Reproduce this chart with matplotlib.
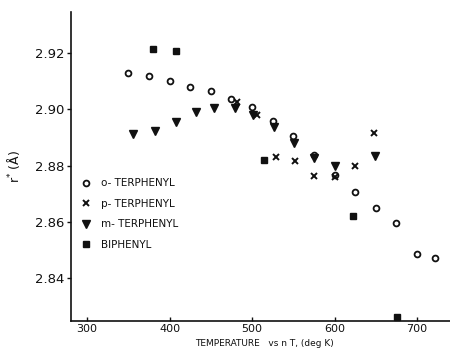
import matplotlib
matplotlib.use("Agg")
import matplotlib.pyplot as plt

# Temperature (K) and characteristic distance r* (Angstrom) per compound
o_terphenyl_T = [350, 375, 400, 425, 450, 475, 500, 525, 550, 575, 600, 625, 650, 675, 700, 722]
o_terphenyl_r = [2.913, 2.912, 2.910, 2.908, 2.9065, 2.9036, 2.9008, 2.896, 2.8905, 2.8838, 2.8766, 2.8706, 2.865, 2.8596, 2.8485, 2.847]

p_terphenyl_T = [482, 506, 529, 552, 575, 600, 625, 648]
p_terphenyl_r = [2.9026, 2.898, 2.883, 2.8816, 2.8763, 2.8760, 2.880, 2.8916]

m_terphenyl_T = [356, 382, 408, 432, 454, 479, 501, 527, 551, 575, 600, 649]
m_terphenyl_r = [2.8912, 2.8923, 2.8955, 2.899, 2.9004, 2.9004, 2.898, 2.8937, 2.888, 2.8827, 2.880, 2.8834]

biphenyl_T = [380, 408, 515, 622, 676]
biphenyl_r = [2.9214, 2.9208, 2.882, 2.862, 2.826]

x_ticks = [300, 400, 500, 600, 700]
y_ticks = [2.84, 2.86, 2.88, 2.90, 2.92]
y_tick_labels = ["2.84", "2.86", "2.88", "2.90", "2.92"]

plt.rcParams["font.family"] = ["DejaVu Sans"]

fig = plt.figure(figsize=(4.5, 3.49), dpi=100)
ax = fig.add_axes([71 / 450, 1 - 321 / 349, 1 - 71 / 450, (321 - 12) / 349])

ink = "#111111"
ax.plot(o_terphenyl_T, o_terphenyl_r, linestyle="none", marker="o", ms=4.2,
        mfc="white", mec=ink, mew=1.3, label="o- TERPHENYL")
ax.plot(p_terphenyl_T, p_terphenyl_r, linestyle="none", marker="x", ms=4.5,
        color=ink, mew=1.4, label="p- TERPHENYL")
ax.plot(m_terphenyl_T, m_terphenyl_r, linestyle="none", marker="v", ms=5.5,
        color=ink, mec=ink, label="m- TERPHENYL")
ax.plot(biphenyl_T, biphenyl_r, linestyle="none", marker="s", ms=4.0,
        color=ink, mec=ink, label="BIPHENYL")

ax.set_xlim(280.6, 740)
ax.set_ylim(2.8247, 2.9346)

ax.set_xticks(x_ticks)
ax.set_xticklabels([str(t) for t in x_ticks], fontsize=8, color=ink)
ax.set_yticks(y_ticks)
ax.set_yticklabels(y_tick_labels, fontsize=9.5, color=ink)
ax.tick_params(axis="x", direction="in", length=3, width=1, pad=2, colors=ink)
ax.tick_params(axis="y", direction="out", length=3, width=1, pad=2, colors=ink)

for side in ("top", "right"):
    ax.spines[side].set_visible(False)
for side in ("left", "bottom"):
    ax.spines[side].set_linewidth(1.2)
    ax.spines[side].set_color(ink)

ax.set_ylabel("r$^{*}$ (Å)", fontsize=9, color=ink)
ax.yaxis.set_label_coords(-0.13, 0.5)
fig.text(195 / 450, 1 - 343.5 / 349, "TEMPERATURE   vs n T, (deg K)",
         fontsize=6.5, color=ink, va="center", ha="left")

leg = ax.legend(loc="upper left", bbox_to_anchor=(0.015, 0.475), frameon=False,
                fontsize=7.5, handletextpad=0.9, labelspacing=1.0,
                handlelength=1.0, borderaxespad=0)
for txt in leg.get_texts():
    txt.set_color(ink)

fig.savefig("out.png", dpi=100, facecolor="white")
